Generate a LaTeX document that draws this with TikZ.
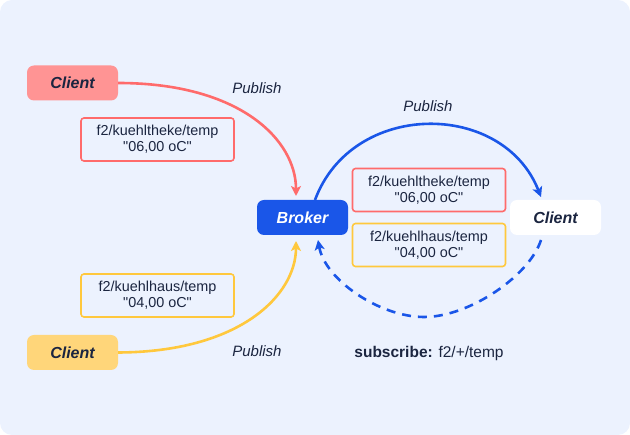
\documentclass[tikz,border=0pt]{standalone}
\usepackage{fontspec}
\setmainfont{Liberation Sans}[Ligatures=TeXOff]
\usetikzlibrary{arrows.meta}
\definecolor{bgc}{HTML}{ECF2FE}
\definecolor{redline}{HTML}{FF6B6B}
\definecolor{redfill}{HTML}{FF9494}
\definecolor{yelline}{HTML}{FFC83D}
\definecolor{yelfill}{HTML}{FFD67A}
\definecolor{bluec}{HTML}{1A56E8}
\definecolor{txt}{HTML}{1B2540}
\begin{document}
\begin{tikzpicture}[x=1pt,y=-1pt,
  actor/.style={rounded corners=7pt, minimum width=91pt, minimum height=35pt, inner sep=0pt,
    font=\fontsize{16}{18}\selectfont\bfseries\itshape, text=txt},
  lbl/.style={rounded corners=3pt, line width=1.6pt, minimum width=153pt, minimum height=43pt,
    inner sep=0pt, align=center, font=\fontsize{14.4}{16}\selectfont, text=txt},
  pub/.style={font=\fontsize{15}{17}\selectfont\itshape, text=txt},
  flow/.style={line width=2.6pt, -{Stealth[length=10pt,width=10pt,inset=2.5pt]}},
]
\useasboundingbox (0,0) rectangle (630,435);
\fill[bgc, rounded corners=12pt] (0,0) rectangle (630,435);

\node[actor, fill=redfill] (c1) at (72.5,83) {Client};
\node[actor, fill=yelfill] (c2) at (72.5,352.5) {Client};
\node[actor, fill=bluec, text=white] (br) at (302.5,217.5) {Broker};
\node[actor, fill=white] (c3) at (555.5,217.5) {Client};

\node[lbl, draw=redline] (l1) at (157.5,139.5) {f2/kuehltheke/temp\\"06,00 oC"};
\node[lbl, draw=yelline] (l2) at (157.5,295.5) {f2/kuehlhaus/temp\\"04,00 oC"};
\node[lbl, draw=redline] (l3) at (429,190) {f2/kuehltheke/temp\\"06,00 oC"};
\node[lbl, draw=yelline] (l4) at (429,245) {f2/kuehlhaus/temp\\"04,00 oC"};

\node[pub] (p1) at (257,88) {Publish};
\node[pub] (p2) at (428,106) {Publish};
\node[pub] (p3) at (257,351) {Publish};
\node[font=\fontsize{15.5}{17}\selectfont, text=txt] (sub) at (429,353) {\textbf{subscribe:} f2/+/temp};

\coordinate (bt1) at (296,196);
\coordinate (bt2) at (296,241);
\coordinate (bs) at (315,200);
\coordinate (ct) at (541,197);
\coordinate (cb) at (541,240);
\coordinate (dm) at (424,317);
\coordinate (bb) at (318,240);

\draw[flow, redline] (c1.east) .. controls (240,83) and (296,140) .. (bt1);
\draw[flow, yelline] (c2.east) .. controls (240,352) and (296,295) .. (bt2);
\draw[flow, bluec] (bs) .. controls (352,100) and (503,100) .. (ct);
\draw[flow, bluec, dash pattern=on 9pt off 7pt] (cb) .. controls (530,275) and (470,317) .. (dm)
  .. controls (380,317) and (325,280) .. (bb);
\end{tikzpicture}
\end{document}
